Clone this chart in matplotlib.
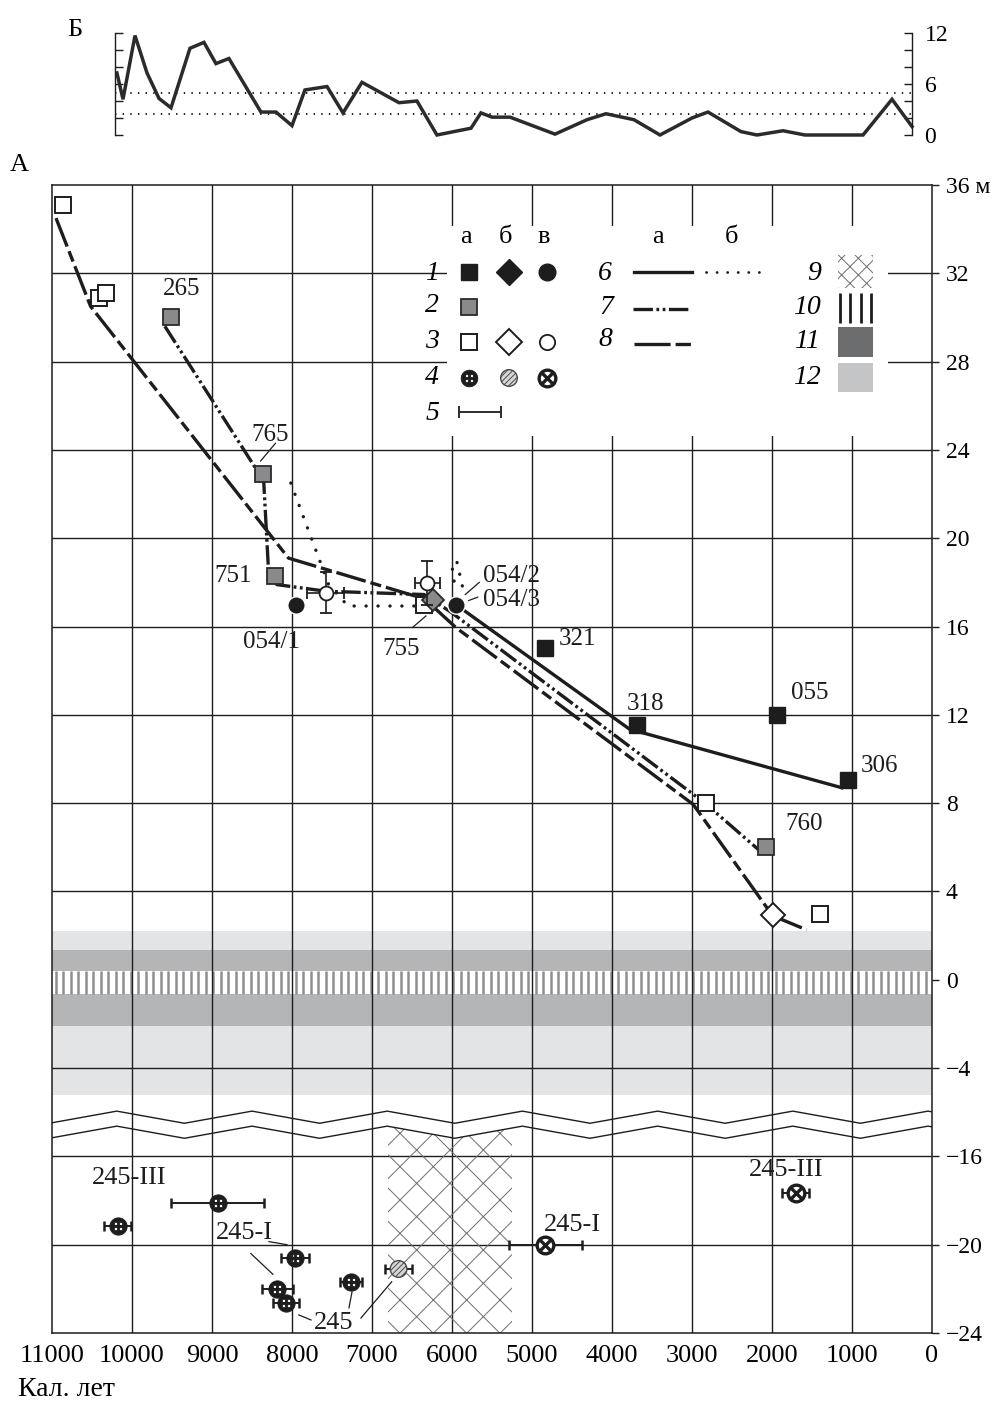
import numpy as np
import matplotlib

matplotlib.use("Agg")

import matplotlib.pyplot as plt  # noqa: E402
from matplotlib.path import Path  # noqa: E402
from matplotlib.patches import Rectangle  # noqa: E402

plt.rcParams["font.family"] = ["Liberation Serif", "DejaVu Serif"]
plt.rcParams["lines.scale_dashes"] = False
plt.rcParams["hatch.linewidth"] = 0.7

_INK = "#1d1d1d"
_MID_GRAY = "#8a8a8c"
_BAND_LIGHT = "#e3e4e6"
_BAND_DARK = "#b4b5b7"
_STRIPE = "#8e8e90"
_HATCH = "#6e6e6e"
_FS = 18

# The depth axis is broken between about -5 and -16 m; depths below the break
# are lifted by this many metres so the lower strip sits right under it.
_BREAK_SHIFT = 8.0

# ---- panel Б: counts per interval (cal. years BP)
top_years = [10188, 10112, 9962, 9812, 9662, 9512, 9275, 9100, 8950, 8788,
             8388, 8200, 8000, 7838, 7562, 7362, 7125, 6662, 6438, 6188,
             5762, 5638, 5500, 5275, 4712, 4312, 4075, 3725, 3400, 3000,
             2800, 2388, 2188, 1862, 1588, 862, 500, 250]
top_counts = [7.3, 4.2, 11.7, 7.3, 4.3, 3.2, 10.2, 10.9, 8.4, 9.0,
              2.7, 2.7, 1.1, 5.3, 5.7, 2.6, 6.2, 3.8, 4.0, 0.0,
              0.8, 2.6, 2.1, 2.1, 0.1, 1.8, 2.5, 1.8, 0.0, 2.0,
              2.7, 0.4, 0.0, 0.5, 0.0, 0.0, 4.2, 1.0]
top_levels = [5.0, 2.5]

# ---- panel А: dated samples (years BP, metres)
black_sq_years = [4838, 3691, 1941, 1046]
black_sq_depth = [15.05, 11.55, 12.0, 9.03]
black_dot_years = [7949, 5954]
black_dot_depth = [16.97, 16.97]
gray_sq_years = [9515, 8366, 8214, 2075]
gray_sq_depth = [30.0, 22.9, 18.28, 6.0]
open_sq_years = [10867, 10414, 10324, 6351, 2829, 1400]
open_sq_depth = [35.1, 30.86, 31.1, 16.97, 8.01, 2.97]
gray_dia_years = [6239]
gray_dia_depth = [17.2]
open_dia_years = [1992]
open_dia_depth = [2.95]
open_dot_years = [7576, 6310]
open_dot_depth = [17.53, 17.98]
open_dot_xerr = [232, 155]
open_dot_yerr = [0.93, 1.0]

# sea-level curves
curve6_years = [5954, 3780, 1129]
curve6_depth = [17.0, 11.35, 8.7]
curve6b_years = [8015, 7542, 7300, 6400]
curve6b_depth = [22.5, 17.9, 16.93, 16.93]
curve6b_stub_a_years = [5937, 5862]
curve6b_stub_a_depth = [18.9, 17.7]
curve6b_stub_b_years = [5995, 5960]
curve6b_stub_b_depth = [18.6, 17.7]
curve7_years = [9589, 8354, 8296, 8190, 7576, 6350, 6012, 2838, 2171]
curve7_depth = [29.6, 22.6, 18.7, 17.9, 17.6, 17.45, 16.65, 8.0, 5.9]
curve8_years = [10950, 10517, 8044, 6340, 5950, 2984, 1992, 1567]
curve8_depth = [34.5, 30.5, 19.1, 17.25, 15.95, 7.94, 2.9, 2.26]

# deep samples below the break
peat_years = [8930, 10178, 7962, 8183, 8073, 7262]
peat_depth = [-18.1, -19.15, -20.6, -22.0, -22.65, -21.7]
peat_err = [580, 167, 180, 190, 165, 140]
hatched_years = [6668]
hatched_depth = [-21.1]
hatched_err = [165]
cross_years = [4835, 1704]
cross_depth = [-20.0, -17.65]
cross_err = [455, 165]

# zones
light_band = (-5.2, 2.23)
dark_bands = [(0.4, 1.36), (-2.1, -0.64)]
stripe_band = (-0.64, 0.4)
hatch_span = (6800, 5250)

# sample labels
label_text = ["265", "765", "751", "054/1", "755", "054/2", "054/3",
              "321", "318", "055", "306", "760"]
label_years = [9375, 8269, 8737, 8250, 6637, 5262, 5262, 4437, 3587, 1525, 662, 1600]
label_depth = [31.27, 24.68, 18.27, 15.3, 15.0, 18.3, 17.2, 15.45, 12.5, 13.0, 9.68, 7.05]
leader_years = [(8207, 8392), (6492, 6326), (5659, 5834), (5679, 5791)]
leader_depth = [(24.3, 23.5), (15.96, 16.48), (18.0, 17.45), (17.33, 17.18)]

deep_label_text = ["245-III", "245-I", "245", "245-I", "245-III"]
deep_label_years = [10037, 8600, 7475, 4500, 1825]
deep_label_depth = [-17.0, -19.45, -23.55, -19.1, -16.6]
deep_leader_years = [(8288, 8063), (8515, 8239), (7915, 7763), (7288, 7250), (7138, 6754)]
deep_leader_depth = [(-19.86, -20.0), (-20.4, -21.34), (-23.18, -23.41),
                     (-22.86, -22.14), (-23.32, -21.68)]

x_ticks = list(range(11000, -1, -1000))
depth_ticks = [36, 32, 28, 24, 20, 16, 12, 8, 4, 0, -4, -16, -20, -24]

DASH_7 = (0, (14, 2.5, 2, 2.5, 2, 2.5))
DASH_8 = (0, (22, 3.6, 8, 3.6))
DOTS = (0, (0.1, 8.5))


def to_plot(m):
    m = np.asarray(m, dtype=float)
    return np.where(m < -10, m + _BREAK_SHIFT, m)


def _speckled_disc():
    """Black disc with four small holes, used for symbol 4a."""
    t = np.linspace(0, 2 * np.pi, 37)
    rings = [np.column_stack([np.cos(t), np.sin(t)])]
    for a in np.deg2rad([45, 135, 225, 315]):
        cx, cy = 0.42 * np.cos(a), 0.42 * np.sin(a)
        rings.append(np.column_stack([cx + 0.19 * np.cos(-t), cy + 0.19 * np.sin(-t)]))
    verts, codes = [], []
    for r in rings:
        verts.extend(r)
        codes.extend([Path.MOVETO] + [Path.LINETO] * (len(r) - 2) + [Path.CLOSEPOLY])
    return Path(verts, codes)


SPECKLED = _speckled_disc()


def draw_speckled(ax, x, y, ms=12.5, zorder=5):
    ax.plot(x, y, ls="none", marker=SPECKLED, ms=ms, mfc=_INK, mec=_INK, mew=0.6,
            zorder=zorder)


def draw_crossed(ax, x, y, ms=12, zorder=5):
    ax.plot(x, y, ls="none", marker="o", ms=ms, mfc="white", mec=_INK, mew=2.4,
            zorder=zorder)
    ax.plot(x, y, ls="none", marker="x", ms=ms * 0.55, mec=_INK, mew=2.4,
            zorder=zorder + 0.1)


def draw_hatched(ax, x, y, ms=12, zorder=5):
    ax.scatter(x, y, s=ms ** 2, marker="o", facecolor="#d6d6d6", edgecolor="#4a4a4a",
               linewidths=1.0, hatch="//////", zorder=zorder)


fig = plt.figure(figsize=(9.98, 14.02), dpi=100)

# ---------------- panel Б
ax_top = fig.add_axes([115 / 998, 1 - 135 / 1402, (912 - 115) / 998, 102 / 1402])
ax_top.set_xlim(10212, 250)
ax_top.set_ylim(0, 12)
for lvl in top_levels:
    ax_top.axhline(lvl, color=_INK, lw=1.4, ls=(0, (1, 4.5)), zorder=1)
ax_top.plot(top_years, top_counts, color="#2b2b2b", lw=2.5, solid_joinstyle="miter",
            clip_on=False, zorder=2)
for side in ("top", "bottom"):
    ax_top.spines[side].set_visible(False)
for side in ("left", "right"):
    ax_top.spines[side].set_linewidth(1.0)
    ax_top.spines[side].set_color(_INK)
ax_top.set_xticks([])
ax_top.set_yticks([0, 6, 12])
ax_top.set_yticks([2, 4, 8, 10], minor=True)
ax_top.tick_params(axis="y", which="both", direction="in", left=True, right=True,
                   labelleft=False, labelright=True, length=6, width=1.0,
                   color=_INK, labelsize=17, pad=9)
fig.text(75 / 998, 1 - 30 / 1402, "Б", fontsize=19, ha="center", va="center")

# ---------------- panel А
ax = fig.add_axes([52 / 998, 1 - 1333 / 1402, 880 / 998, 1148 / 1402])
ax.set_xlim(11000, 0)
ax.set_ylim(-16, 36)
fig.text(10 / 998, 1 - 165 / 1402, "А", fontsize=19, ha="left", va="center")

# zones 12 / 11 / 10
ax.axhspan(*light_band, facecolor=_BAND_LIGHT, lw=0, zorder=0.2)
for lo, hi in dark_bands:
    ax.axhspan(lo, hi, facecolor=_BAND_DARK, lw=0, zorder=0.3)
ax.axhspan(*stripe_band, facecolor="white", lw=0, zorder=0.3)
ax.vlines(np.arange(10950, 0, -93.75), stripe_band[0], stripe_band[1],
          color=_STRIPE, lw=1.8, zorder=0.4)

# grid
for yr in x_ticks[1:-1]:
    ax.axvline(yr, color=_INK, lw=1.0, zorder=1)
for d in depth_ticks[1:-1]:
    if d != 0:
        ax.axhline(float(to_plot(d)), color=_INK, lw=1.0, zorder=1)

# break marks
nodes = np.arange(10190 + 845, -900, -845)
upper_zig = np.where(np.arange(len(nodes)) % 2 == 1, -5.95, -6.5)
lower_zig = upper_zig - 0.68
ax.plot(nodes, upper_zig, color=_INK, lw=1.0, zorder=1.5)
ax.plot(nodes, lower_zig, color=_INK, lw=1.0, zorder=1.5)

# zone 9: cross-hatched interval under the break
hx = np.linspace(hatch_span[0], hatch_span[1], 60)
hy = np.interp(hx, nodes[::-1], lower_zig[::-1])
ax.fill_between(hx, -16, hy, facecolor="none", edgecolor=_HATCH, hatch="x",
                lw=0, zorder=1.2)

# curves
ax.plot(curve8_years, curve8_depth, color=_INK, lw=2.4, ls=DASH_8, zorder=3)
ax.plot(curve7_years, curve7_depth, color=_INK, lw=2.4, ls=DASH_7, zorder=3)
ax.plot(curve6_years, curve6_depth, color=_INK, lw=2.4, zorder=3)
for yy, dd in ((curve6b_years, curve6b_depth),
               (curve6b_stub_a_years, curve6b_stub_a_depth),
               (curve6b_stub_b_years, curve6b_stub_b_depth)):
    ax.plot(yy, dd, color=_INK, lw=2.4, ls=DOTS, dash_capstyle="round", zorder=3)

# samples
ax.plot(open_sq_years, open_sq_depth, "s", ms=11, mfc="white", mec=_INK, mew=1.4, zorder=4)
ax.plot(gray_sq_years, gray_sq_depth, "s", ms=11, mfc=_MID_GRAY, mec="#2a2a2a", mew=1.3,
        zorder=4)
ax.plot(black_sq_years, black_sq_depth, "s", ms=11, mfc=_INK, mec=_INK, zorder=4)
ax.plot(gray_dia_years, gray_dia_depth, "D", ms=11.5, mfc=_MID_GRAY, mec="#2a2a2a",
        mew=1.3, zorder=5)
ax.plot(open_dia_years, open_dia_depth, "D", ms=12, mfc="white", mec=_INK, mew=1.4,
        zorder=4)
ax.plot(black_dot_years, black_dot_depth, "o", ms=12.5, mfc=_INK, mec="white", mew=1.0,
        zorder=5)
ax.errorbar(open_dot_years, open_dot_depth, xerr=open_dot_xerr, yerr=open_dot_yerr,
            fmt="o", ms=10, mfc="white", mec=_INK, mew=1.3, ecolor=_INK,
            elinewidth=1.2, capsize=4.3, capthick=1.3, zorder=5)

# deep samples with age ranges
for yy, dd, ee in ((peat_years, peat_depth, peat_err),
                   (hatched_years, hatched_depth, hatched_err),
                   (cross_years, cross_depth, cross_err)):
    ax.errorbar(yy, to_plot(dd), xerr=ee, fmt="none", ecolor=_INK, elinewidth=1.4,
                capsize=3.8, capthick=1.8, zorder=4)
draw_speckled(ax, peat_years, to_plot(peat_depth))
draw_hatched(ax, hatched_years, to_plot(hatched_depth))
draw_crossed(ax, cross_years, to_plot(cross_depth))

# labels
for txt, x, y in zip(label_text, label_years, label_depth):
    ax.text(x, y, txt, fontsize=_FS, ha="center", va="center", color=_INK, zorder=6)
for xs, ys in zip(leader_years, leader_depth):
    ax.plot(xs, ys, color=_INK, lw=0.9, zorder=6)
for txt, x, y in zip(deep_label_text, deep_label_years, deep_label_depth):
    ax.text(x, float(to_plot(y)), txt, fontsize=19, ha="center", va="center",
            color=_INK, zorder=6)
for xs, ys in zip(deep_leader_years, deep_leader_depth):
    ax.plot(xs, to_plot(ys), color=_INK, lw=0.9, zorder=6)

# axes dressing
for s in ax.spines.values():
    s.set_linewidth(1.1)
    s.set_color(_INK)
ax.set_xticks(x_ticks)
ax.set_xticklabels([f"{v}" for v in x_ticks])
ax.tick_params(axis="x", length=0, pad=9, labelsize=19)
ax.yaxis.tick_right()
ax.set_yticks(to_plot(depth_ticks))
ax.set_yticklabels(["36 м" if d == 36 else ("−" if d < 0 else "") + str(abs(d))
                    for d in depth_ticks])
ax.tick_params(axis="y", direction="out", length=5, width=1.0, color=_INK,
               pad=5, labelsize=17)
fig.text(18 / 998, 1 - 1390 / 1402, "Кал. лет", fontsize=20, ha="left", va="center")

# ---------------- key
lg = fig.add_axes([447 / 998, 1 - 436 / 1402, 441 / 998, 210 / 1402], zorder=3)
lg.set_xlim(447, 888)
lg.set_ylim(436, 226)
lg.set_facecolor("white")
lg.set_xticks([])
lg.set_yticks([])
for s in lg.spines.values():
    s.set_visible(False)

for x, t in ((466, "а"), (506, "б"), (544, "в"), (658, "а"), (731, "б")):
    lg.text(x, 237, t, fontsize=19, ha="center", va="center")
for y, t in ((273, "1"), (306, "2"), (341, "3"), (377, "4"), (413, "5")):
    lg.text(432, y, t, fontsize=20, ha="center", va="center", style="italic",
            clip_on=False)
for x, y, t in ((605, 274, "6"), (606, 307, "7"), (605, 340, "8"),
                (814, 274, "9"), (807, 307, "10"), (807, 341, "11"), (807, 377, "12")):
    lg.text(x, y, t, fontsize=20, ha="center", va="center", style="italic")

lg.plot([469], [272], "s", ms=11, mfc=_INK, mec=_INK)
lg.plot([509], [272], "D", ms=13, mfc=_INK, mec=_INK)
lg.plot([547], [272], "o", ms=12, mfc=_INK, mec=_INK)
lg.plot([469], [307], "s", ms=11, mfc=_MID_GRAY, mec="#2a2a2a", mew=1.3)
lg.plot([469], [342], "s", ms=11, mfc="white", mec=_INK, mew=1.4)
lg.plot([509], [342], "D", ms=13, mfc="white", mec=_INK, mew=1.4)
lg.plot([547], [342], "o", ms=11, mfc="white", mec=_INK, mew=1.3)
draw_speckled(lg, [469], [378], ms=12)
draw_hatched(lg, [509], [378], ms=12)
draw_crossed(lg, [547], [378], ms=12)
lg.errorbar([480], [412], xerr=[21], fmt="none", ecolor=_INK, elinewidth=1.3,
            capsize=4.5, capthick=1.3)

lg.plot([634, 692], [272, 272], color=_INK, lw=2.4)
lg.plot([706, 766], [272, 272], color=_INK, lw=2.0, ls=(0, (0.1, 7.5)),
        dash_capstyle="round")
lg.plot([633, 690], [309, 309], color=_INK, lw=2.4, ls=DASH_7)
lg.plot([634, 692], [344, 344], color=_INK, lw=2.4, ls=(0, (26, 3.6, 11, 3.6)))

lg.add_patch(Rectangle((838, 255), 35, 33, facecolor="white", edgecolor=_HATCH,
                       hatch="xx", lw=0))
lg.vlines(np.linspace(840, 871, 4), 293, 323, color=_INK, lw=2.0)
lg.add_patch(Rectangle((838, 327), 35, 30, facecolor="#6c6d6f", lw=0))
lg.add_patch(Rectangle((838, 363), 35, 29, facecolor="#c4c5c7", lw=0))

fig.savefig("out.png", dpi=100)
plt.close(fig)
